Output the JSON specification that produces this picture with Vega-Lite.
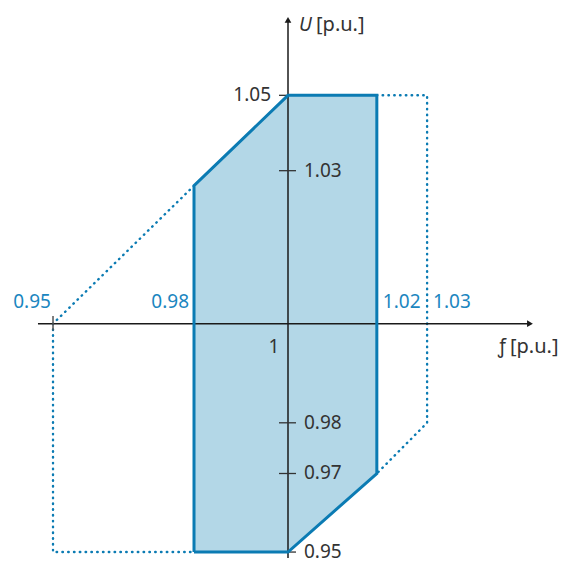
{
  "$schema": "https://vega.github.io/schema/vega-lite/v6.json",
  "width": 562,
  "height": 563,
  "padding": 0,
  "autosize": {"type": "fit", "contains": "padding"},
  "config": {"view": {"stroke": null}, "text": {"font": "Noto Sans", "fontSize": 19, "color": "#333333"}},
  "datasets": {
    "region": [
      {"f": 0.98, "lo": 0.95, "U": 1.0302},
      {"f": 1.0, "lo": 0.95, "U": 1.05},
      {"f": 1.0189, "lo": 0.9672, "U": 1.05}
    ],
    "outline": [
      {"i": 0, "f": 0.98, "U": 0.95},
      {"i": 1, "f": 0.98, "U": 1.0302},
      {"i": 2, "f": 1.0, "U": 1.05},
      {"i": 3, "f": 1.0189, "U": 1.05},
      {"i": 4, "f": 1.0189, "U": 0.9672},
      {"i": 5, "f": 1.0, "U": 0.95},
      {"i": 6, "f": 0.98, "U": 0.95}
    ],
    "dotted": [
      {"seg": "L", "i": 0, "f": 0.98, "U": 1.0302},
      {"seg": "L", "i": 1, "f": 0.95, "U": 1.0},
      {"seg": "L", "i": 2, "f": 0.95, "U": 0.95},
      {"seg": "L", "i": 3, "f": 0.98, "U": 0.95},
      {"seg": "R", "i": 0, "f": 1.0189, "U": 1.05},
      {"seg": "R", "i": 1, "f": 1.0296, "U": 1.05},
      {"seg": "R", "i": 2, "f": 1.0296, "U": 0.9783},
      {"seg": "R", "i": 3, "f": 1.0189, "U": 0.9672}
    ]
  },
  "resolve": {"scale": {"x": "shared", "y": "shared"}},
  "layer": [
    {
      "data": {"name": "dotted"},
      "mark": {"type": "line", "stroke": "#0b7bb3", "strokeWidth": 2.4, "strokeCap": "round", "strokeDash": [0.5, 5.3]},
      "encoding": {
        "x": {"field": "f", "type": "quantitative", "scale": {"domain": [0.93872, 1.0583], "nice": false, "zero": false}, "axis": null},
        "y": {"field": "U", "type": "quantitative", "scale": {"domain": [0.94848, 1.07087], "nice": false, "zero": false}, "axis": null},
        "detail": {"field": "seg"}, "order": {"field": "i", "type": "quantitative"}}
    },
    {
      "data": {"name": "region"},
      "mark": {"type": "area", "fill": "#b3d7e7", "opacity": 1, "orient": "vertical"},
      "encoding": {
        "x": {"field": "f", "type": "quantitative"},
        "y": {"field": "U", "type": "quantitative"},
        "y2": {"field": "lo"}}
    },
    {
      "data": {"values": [{"f": 0.9468, "f2": 1.0515, "U": 1.0, "U2": 1.0}, {"f": 1.0, "f2": 1.0, "U": 0.9487, "U2": 1.0665}]},
      "mark": {"type": "rule", "stroke": "#1a1a1a", "strokeWidth": 1.5},
      "encoding": {
        "x": {"field": "f", "type": "quantitative"},
        "y": {"field": "U", "type": "quantitative"},
        "x2": {"field": "f2"}, "y2": {"field": "U2"}}
    },
    {
      "data": {"values": [{"f": 1.05149, "U": 1.0}]},
      "mark": {"type": "point", "shape": "triangle-right", "size": 45, "filled": true, "color": "#1a1a1a", "opacity": 1},
      "encoding": {
        "x": {"field": "f", "type": "quantitative"},
        "y": {"field": "U", "type": "quantitative"}}
    },
    {
      "data": {"values": [{"f": 1.0, "U": 1.06652}]},
      "mark": {"type": "point", "shape": "triangle-up", "size": 45, "filled": true, "color": "#1a1a1a", "opacity": 1},
      "encoding": {
        "x": {"field": "f", "type": "quantitative"},
        "y": {"field": "U", "type": "quantitative"}}
    },
    {
      "data": {"values": [{"U": 1.05}, {"U": 1.0335}, {"U": 0.9783}, {"U": 0.9672}, {"U": 0.95}]},
      "mark": {"type": "rule", "stroke": "#333333", "strokeWidth": 1.3},
      "encoding": {
        "x": {"datum": 0.99808, "type": "quantitative"},
        "x2": {"datum": 1.0017},
        "y": {"field": "U", "type": "quantitative"}}
    },
    {
      "data": {"values": [{"f": 0.95}]},
      "mark": {"type": "rule", "stroke": "#555555", "strokeWidth": 1.5},
      "encoding": {
        "x": {"field": "f", "type": "quantitative"},
        "y": {"datum": 1.0017, "type": "quantitative"},
        "y2": {"datum": 0.9985}}
    },
    {
      "data": {"name": "outline"},
      "mark": {"type": "line", "stroke": "#0b7bb3", "strokeWidth": 3, "strokeJoin": "miter"},
      "encoding": {
        "x": {"field": "f", "type": "quantitative"},
        "y": {"field": "U", "type": "quantitative"},
        "order": {"field": "i", "type": "quantitative"}}
    },
    {
      "data": {"values": [{"U": 1.0335, "t": "1.03"}, {"U": 0.9783, "t": "0.98"}, {"U": 0.9672, "t": "0.97"}, {"U": 0.95, "t": "0.95"}]},
      "mark": {"type": "text", "align": "left", "baseline": "middle", "dx": 16},
      "encoding": {
        "x": {"datum": 1.0, "type": "quantitative"},
        "y": {"field": "U", "type": "quantitative"},
        "text": {"field": "t"}}
    },
    {
      "data": {"values": [{"U": 1.05, "t": "1.05"}]},
      "mark": {"type": "text", "align": "right", "baseline": "middle", "dx": -17},
      "encoding": {
        "x": {"datum": 1.0, "type": "quantitative"},
        "y": {"field": "U", "type": "quantitative"},
        "text": {"field": "t"}}
    },
    {
      "data": {"values": [{"t": "1"}]},
      "mark": {"type": "text", "align": "center", "baseline": "middle", "dx": -14, "dy": 23},
      "encoding": {
        "x": {"datum": 1.0, "type": "quantitative"},
        "y": {"datum": 1.0, "type": "quantitative"},
        "text": {"field": "t"}}
    },
    {
      "data": {"values": [{"f": 1.0189, "t": "1.02"}, {"f": 1.0296, "t": "1.03"}]},
      "mark": {"type": "text", "align": "left", "baseline": "middle", "dx": 6, "dy": -22, "color": "#1b86c0"},
      "encoding": {
        "x": {"field": "f", "type": "quantitative"},
        "y": {"datum": 1.0, "type": "quantitative"},
        "text": {"field": "t"}}
    },
    {
      "data": {"values": [{"f": 0.98, "t": "0.98"}]},
      "mark": {"type": "text", "align": "right", "baseline": "middle", "dx": -5, "dy": -22, "color": "#1b86c0"},
      "encoding": {
        "x": {"field": "f", "type": "quantitative"},
        "y": {"datum": 1.0, "type": "quantitative"},
        "text": {"field": "t"}}
    },
    {
      "data": {"values": [{"f": 0.95, "t": "0.95"}]},
      "mark": {"type": "text", "align": "center", "baseline": "middle", "dx": -21, "dy": -22, "color": "#1b86c0"},
      "encoding": {
        "x": {"field": "f", "type": "quantitative"},
        "y": {"datum": 1.0, "type": "quantitative"},
        "text": {"field": "t"}}
    },
    {
      "data": {"values": [{"f": 1.0, "U": 1.06652, "t": "U"}]},
      "mark": {"type": "text", "align": "left", "baseline": "middle", "dx": 11, "dy": 5, "fontStyle": "italic"},
      "encoding": {
        "x": {"field": "f", "type": "quantitative"},
        "y": {"field": "U", "type": "quantitative"},
        "text": {"field": "t"}}
    },
    {
      "data": {"values": [{"f": 1.0, "U": 1.06652, "t": "[p.u.]"}]},
      "mark": {"type": "text", "align": "left", "baseline": "middle", "dx": 28, "dy": 5, "fontSize": 20},
      "encoding": {
        "x": {"field": "f", "type": "quantitative"},
        "y": {"field": "U", "type": "quantitative"},
        "text": {"field": "t"}}
    },
    {
      "data": {"values": [{"f": 1.05149, "U": 1.0, "t": "ƒ"}]},
      "mark": {"type": "text", "align": "left", "baseline": "middle", "dx": -32, "dy": 23},
      "encoding": {
        "x": {"field": "f", "type": "quantitative"},
        "y": {"field": "U", "type": "quantitative"},
        "text": {"field": "t"}}
    },
    {
      "data": {"values": [{"f": 1.05149, "U": 1.0, "t": "[p.u.]"}]},
      "mark": {"type": "text", "align": "left", "baseline": "middle", "dx": -20, "dy": 23, "fontSize": 20},
      "encoding": {
        "x": {"field": "f", "type": "quantitative"},
        "y": {"field": "U", "type": "quantitative"},
        "text": {"field": "t"}}
    }
  ]
}
